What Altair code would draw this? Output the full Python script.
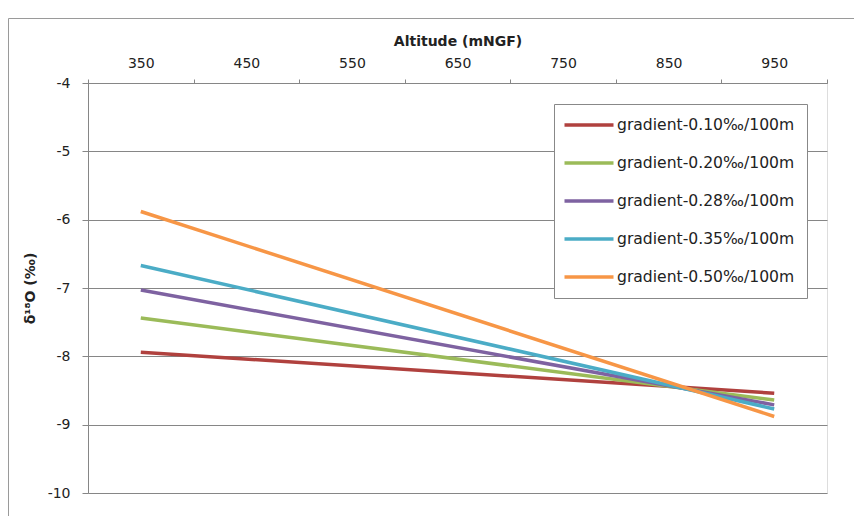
import altair as alt
import pandas as pd

series = ["gradient-0.10‰/100m", "gradient-0.20‰/100m", "gradient-0.28‰/100m",
          "gradient-0.35‰/100m", "gradient-0.50‰/100m"]
colors = ["#B0413E", "#9BBB59", "#7E62A1", "#4BACC6", "#F79646"]
altitudes = [350, 950]
start_vals = [-7.94, -7.44, -7.03, -6.67, -5.88]
end_vals = [-8.54, -8.64, -8.71, -8.77, -8.88]
x_ticks = [300, 400, 500, 600, 700, 800, 900, 1000]
y_ticks = [-10, -9, -8, -7, -6, -5, -4]

rows = []
for s, a, b in zip(series, start_vals, end_vals):
    rows.append({"series": s, "alt": altitudes[0], "d18O": a})
    rows.append({"series": s, "alt": altitudes[1], "d18O": b})
df = pd.DataFrame(rows)

W, H = 739, 410
FONT = "DejaVu Sans"

lines = alt.Chart(df).mark_line(strokeWidth=3.5).encode(
    x=alt.X("alt:Q",
            scale=alt.Scale(domain=[300, 1000], nice=False, zero=False),
            axis=alt.Axis(orient="top", values=x_ticks, title="Altitude (mNGF)",
                          labelExpr="datum.value < 1000 ? '' + (datum.value + 50) : ''",
                          labelOffset=W / 7 / 2, labelFlush=False, labelOverlap=False,
                          grid=False, tickSize=4, tickColor="#868686",
                          domainColor="#868686", labelPadding=9, titlePadding=8,
                          labelFontSize=14, titleFontSize=14, labelFont=FONT,
                          titleFont=FONT, titleFontWeight="bold",
                          labelColor="#222", titleColor="#222")),
    y=alt.Y("d18O:Q",
            scale=alt.Scale(domain=[-10, -4], nice=False, zero=False),
            axis=alt.Axis(values=y_ticks, title="δ¹⁸O (‰)", grid=True,
                          labelExpr="'' + datum.value",
                          gridColor="#868686", tickSize=6, tickColor="#868686",
                          domainColor="#868686", labelPadding=12, titlePadding=10,
                          labelFontSize=14, titleFontSize=14, labelFont=FONT,
                          titleFont=FONT, titleFontWeight="bold",
                          labelColor="#222", titleColor="#222")),
    color=alt.Color("series:N", title=None,
                    scale=alt.Scale(domain=series, range=colors),
                    legend=alt.Legend(orient="none", legendX=466, legendY=21,
                                      direction="vertical", strokeColor="#888",
                                      fillColor="white", padding=12,
                                      symbolType="M-3.5,0L3.5,0", symbolSize=196,
                                      symbolStrokeWidth=3.5, symbolOffset=14,
                                      labelFontSize=15.6, labelFont=FONT,
                                      labelColor="#222", labelOffset=19,
                                      labelLimit=300, rowPadding=20)),
    detail="series:N",
)

frame = alt.Chart(pd.DataFrame({"a": [0]})).mark_rect(
    filled=False, stroke="#9a9a9a", strokeWidth=1
).encode(
    x=alt.value(-79.5), y=alt.value(-64.5),
    x2=alt.value(W + 60), y2=alt.value(H + 60),
)

chart = alt.layer(frame, lines).properties(
    width=W, height=H,
    autosize=alt.AutoSizeParams(type="none"),
    padding={"left": 80, "top": 75, "right": 27, "bottom": 23},
).configure_view(stroke=None).configure(background="white")

chart.save("out.html", embed_options={"renderer": "svg", "actions": False})
